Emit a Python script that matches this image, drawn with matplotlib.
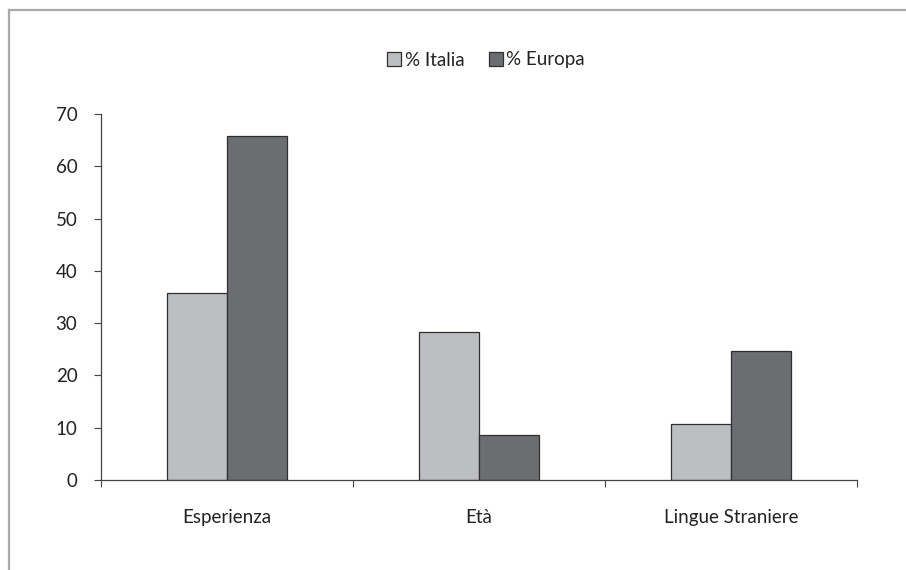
import matplotlib.pyplot as plt
import numpy as np
from matplotlib.lines import Line2D

categories = ["Esperienza", "Età", "Lingue Straniere"]
italia = [35.8, 28.4, 10.8]
europa = [65.8, 8.7, 24.7]
series_names = ["% Italia", "% Europa"]
y_ticks = [0, 10, 20, 30, 40, 50, 60, 70]

COL_ITALIA = "#bdbec2"
COL_EUROPA = "#6c6d70"
EDGE = "#2f2f2f"
TEXT = "#222222"
FS = 13.5

plt.rcParams["font.family"] = ["Lato", "DejaVu Sans"]

fig = plt.figure(figsize=(9.06, 5.70), dpi=100)
ax = fig.add_axes([101 / 906, 1 - 480 / 570, (857 - 101) / 906, (480 - 114) / 570])

x = np.arange(len(categories))
w = 0.238
ax.bar(x - w / 2, italia, width=w, color=COL_ITALIA, edgecolor=EDGE, linewidth=0.9,
       label=series_names[0])
ax.bar(x + w / 2, europa, width=w, color=COL_EUROPA, edgecolor=EDGE, linewidth=0.9,
       label=series_names[1])

ax.set_xlim(-0.5, len(categories) - 0.5)
ax.set_ylim(0, 70)
ax.set_yticks(y_ticks)
ax.set_yticklabels([str(v) for v in y_ticks], fontsize=FS, color=TEXT)

# category ticks sit between the groups, labels in the middle
ax.set_xticks(np.arange(len(categories) + 1) - 0.5)
ax.set_xticklabels([])
ax.set_xticks(x, minor=True)
ax.set_xticklabels(categories, minor=True, fontsize=FS, color=TEXT)
ax.tick_params(axis="x", which="minor", length=0, pad=21)
ax.tick_params(axis="x", which="major", length=5, direction="out", color="#444444")
ax.tick_params(axis="y", length=5, direction="out", color="#444444", pad=12)

for side in ["top", "right"]:
    ax.spines[side].set_visible(False)
for side in ["left", "bottom"]:
    ax.spines[side].set_color("#444444")
    ax.spines[side].set_linewidth(0.9)

leg = fig.legend(loc="center", bbox_to_anchor=(486 / 906, 1 - 60 / 570), ncol=2,
                 frameon=False, fontsize=FS, handlelength=0.75, handleheight=0.75,
                 handletextpad=0.2, columnspacing=1.3)
for t in leg.get_texts():
    t.set_color(TEXT)

# grey frame round the chart area
fig.add_artist(Line2D([9 / 906, 9 / 906], [0, 1 - 9.5 / 570], transform=fig.transFigure,
                      color="#aaaaaa", linewidth=1.6))
fig.add_artist(Line2D([9 / 906, 1], [1 - 9.5 / 570, 1 - 9.5 / 570], transform=fig.transFigure,
                      color="#aaaaaa", linewidth=1.6))

fig.savefig("out.png", dpi=100, facecolor="white")
